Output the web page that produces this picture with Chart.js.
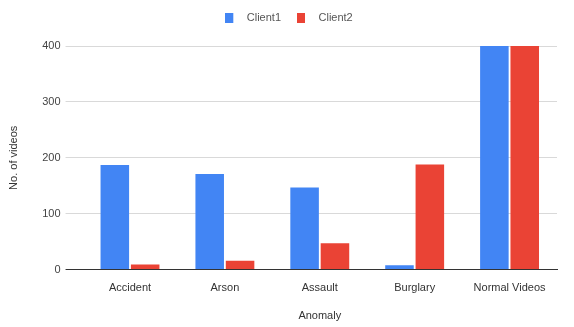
<!DOCTYPE html>
<html>
<head>
<meta charset="utf-8">
<script src="https://cdn.jsdelivr.net/npm/chart.js@4/dist/chart.umd.min.js"></script>
<style>
  html, body { margin: 0; padding: 0; background: #fff; }
  #wrap { width: 574px; height: 327px; }
</style>
</head>
<body>
<div id="wrap"><canvas id="anomaly-chart" width="574" height="327"></canvas></div>
<script>
const categories = ['Accident', 'Arson', 'Assault', 'Burglary', 'Normal Videos'];
const client1 = [187, 171, 147, 8, 400];
const client2 = [9, 16, 47, 188, 400];
const yTicks = [0, 100, 200, 300, 400];

// small legend swatch with blank space on its right, so the text sits further away
function swatch(color) {
  const c = document.createElement('canvas');
  c.width = 16;
  c.height = 10;
  const g = c.getContext('2d');
  g.fillStyle = color;
  g.fillRect(0, 0, 8, 10);
  return c;
}

// push the plot down below the legend and nudge the legend right
const legendGap = {
  id: 'legendGap',
  beforeInit(chart) {
    const fit = chart.legend.fit;
    chart.legend.fit = function () {
      fit.bind(chart.legend)();
      this.height += 13;
    };
  },
  afterLayout(chart) {
    chart.legend.left += 9;
    chart.legend.right += 9;
  }
};

const ctx = document.getElementById('anomaly-chart');
Chart.defaults.font.family = '"Liberation Sans", Arial, sans-serif';
Chart.defaults.font.size = 11;
Chart.defaults.color = '#444';

new Chart(ctx, {
  type: 'bar',
  data: {
    labels: categories,
    datasets: [
      { label: 'Client1', data: client1, backgroundColor: '#4285F4', pointStyle: swatch('#4285F4') },
      { label: 'Client2', data: client2, backgroundColor: '#EA4335', pointStyle: swatch('#EA4335') }
    ]
  },
  options: {
    responsive: false,
    animation: false,
    layout: { padding: { left: 3, right: 17, top: -4, bottom: 0 } },
    categoryPercentage: 0.64,
    barPercentage: 0.94,
    plugins: {
      tooltip: { enabled: false },
      legend: {
        position: 'top',
        labels: { usePointStyle: true, pointStyleWidth: 16, boxHeight: 10, padding: 16, color: '#555' }
      }
    },
    scales: {
      x: {
        grid: { display: false },
        border: { color: '#333' },
        ticks: { color: '#333', padding: 4 },
        title: { display: true, text: 'Anomaly', color: '#333', padding: { top: 11, bottom: 4 } }
      },
      y: {
        min: 0,
        max: 400,
        afterBuildTicks: axis => { axis.ticks = yTicks.map(v => ({ value: v })); },
        grid: {
          color: ctx => ctx.tick && ctx.tick.value === 0 ? '#333' : '#d9d9d9',
          tickLength: 17,
          drawTicks: true
        },
        border: { display: false },
        ticks: { color: '#444', padding: 5 },
        title: { display: true, text: 'No. of videos', color: '#333', padding: { bottom: 17 } }
      }
    }
  },
  plugins: [legendGap]
});
</script>
</body>
</html>
